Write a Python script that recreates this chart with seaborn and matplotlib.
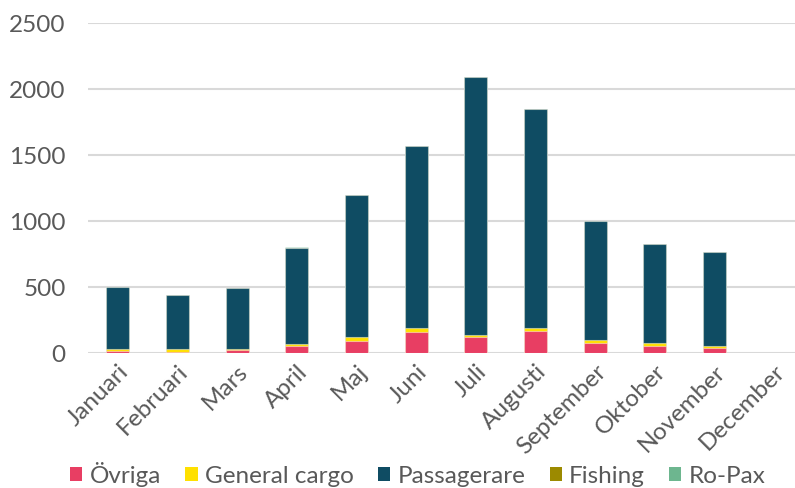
import numpy as np
import pandas as pd
import matplotlib
matplotlib.use("Agg")
import matplotlib.pyplot as plt
from matplotlib.patches import Patch
import seaborn as sns

months = ["Januari", "Februari", "Mars", "April", "Maj", "Juni", "Juli",
          "Augusti", "September", "Oktober", "November", "December"]
ovriga = [15, 10, 20, 50, 90, 160, 125, 165, 75, 50, 35, 0]
general_cargo = [15, 20, 10, 20, 35, 30, 15, 25, 20, 25, 15, 0]
passagerare = [467, 409, 460, 722, 1072, 1378, 1950, 1658, 905, 748, 715, 0]
fishing = [0, 0, 2, 3, 0, 0, 0, 0, 0, 0, 0, 0]
ro_pax = [0, 0, 0, 10, 0, 0, 0, 0, 0, 0, 0, 0]

series_names = ["Övriga", "General cargo", "Passagerare", "Fishing", "Ro-Pax"]
series_vals = [ovriga, general_cargo, passagerare, fishing, ro_pax]
colors = ["#E83E63", "#FFE000", "#0F4C63", "#9C8A00", "#6DB68F"]

sns.set_theme(style="white")
plt.rcParams["font.family"] = ["Lato", "DejaVu Sans"]

cum = np.zeros(len(months))
cums = []
for v in series_vals:
    cum = cum + np.array(v, dtype=float)
    cums.append(cum.copy())

fig = plt.figure(figsize=(7.95, 4.89), dpi=100)
ax = fig.add_axes([88 / 795, 135 / 489, (804 - 88) / 795, (354 - 24) / 489])

for name, c, col in reversed(list(zip(series_names, cums, colors))):
    d = pd.DataFrame({"Månad": months, "v": c})
    sns.barplot(data=d, x="Månad", y="v", color=col, width=0.39, ax=ax,
                edgecolor=(1, 1, 1, 0.45), linewidth=0.8, saturation=1,
                errorbar=None, zorder=3)

ax.set_ylim(0, 2500)
ax.set_yticks([0, 500, 1000, 1500, 2000, 2500])
ax.set_xlim(-0.5, 11.5)
ax.yaxis.grid(True, color="#d9d9d9", linewidth=1.5, zorder=0)
ax.set_axisbelow(True)
for s in ax.spines.values():
    s.set_visible(False)
ax.set_xlabel("")
ax.set_ylabel("")
ax.tick_params(axis="both", length=0, labelsize=17.5, colors="#595959")
ax.tick_params(axis="y", pad=16)
ax.tick_params(axis="x", pad=5)
plt.setp(ax.get_xticklabels(), rotation=45, ha="right", va="top",
         rotation_mode="anchor")

handles = [Patch(facecolor=c, edgecolor="none") for c in colors]
fig.legend(handles, series_names, loc="center", bbox_to_anchor=(418 / 795, 14 / 489),
           ncol=5, frameon=False, fontsize=17.5, labelcolor="#595959",
           handlelength=0.5, handleheight=0.5, handletextpad=0.3, columnspacing=1.0)

fig.savefig("out.png", dpi=100)
